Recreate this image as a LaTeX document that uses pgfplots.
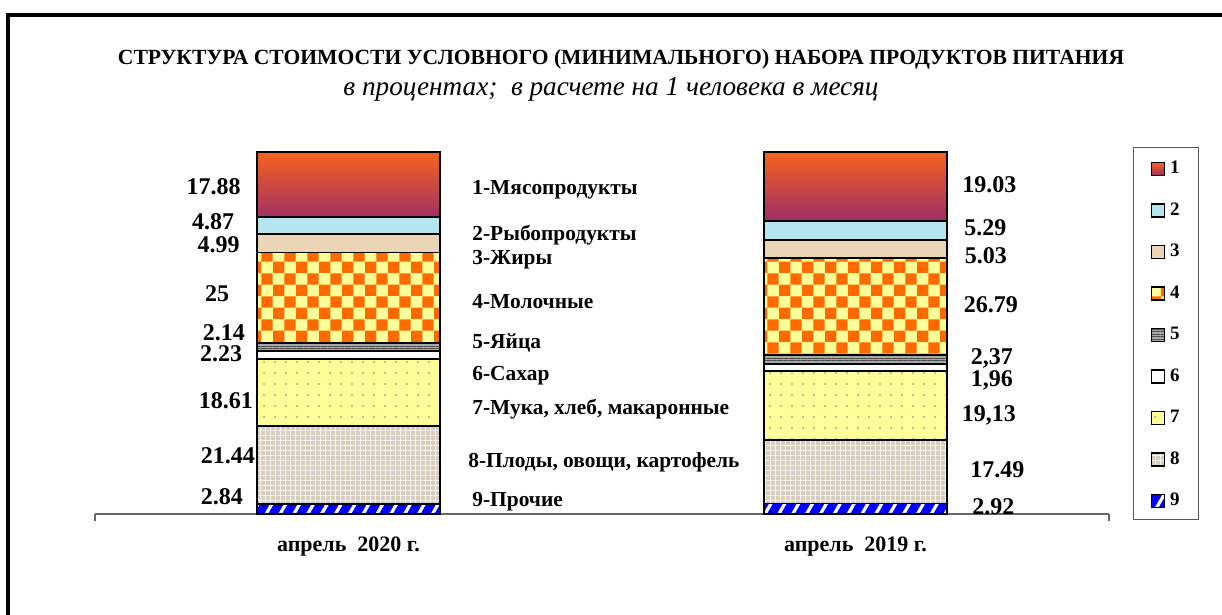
\documentclass[border=0pt]{standalone}
\usepackage{pgfplots}
\pgfplotsset{compat=1.18}
\usetikzlibrary{patterns,patterns.meta}
\usepackage{fontspec}
\setmainfont{Liberation Serif}

\definecolor{meatA}{HTML}{F8621E}
\definecolor{meatB}{HTML}{9C2E68}
\definecolor{fishC}{HTML}{B5E6EF}
\definecolor{fatC}{HTML}{EAD6B6}
\definecolor{milkY}{HTML}{FFFF99}
\definecolor{milkO}{HTML}{FF6A00}
\definecolor{eggC}{HTML}{A8A8A8}
\definecolor{flourY}{HTML}{FFFF99}
\definecolor{vegC}{HTML}{D8CEBE}
\definecolor{otherB}{HTML}{0000FF}

\tikzset{
  vl/.style={font=\bfseries\fontsize{12}{14}\selectfont},
  cl/.style={anchor=west, inner xsep=0pt, font=\bfseries\fontsize{10.7}{12}\selectfont},
}

\begin{document}
\begin{tikzpicture}
\useasboundingbox (0pt,0pt) rectangle (611pt,307.5pt);
\draw[line width=2pt] (4pt,0pt) -- (4pt,300pt) -- (611pt,300pt);
\node[font=\bfseries\fontsize{10.8}{12}\selectfont] at (310.5pt,278pt)
  {СТРУКТУРА СТОИМОСТИ УСЛОВНОГО (МИНИМАЛЬНОГО) НАБОРА ПРОДУКТОВ ПИТАНИЯ};
\node[font=\itshape\fontsize{13.6}{15}\selectfont] at (305.5pt,263pt)
  {в процентах;\ \ в расчете на 1 человека в месяц};

\begin{axis}[
  at={(47.5pt,50.5pt)}, anchor=south west,
  scale only axis, width=507pt, height=181pt,
  ybar stacked, bar width=91.5pt,
  xmin=-0.5, xmax=1.5, ymin=0, ymax=100,
  axis x line*=bottom, hide y axis,
  x axis line style={draw=gray!80!black, line width=0.7pt},
  xtick={-0.5,1.5}, xticklabels={}, tick align=outside,
  major tick length=3.5pt,
  tick style={draw=gray!80!black, line width=0.7pt},
  clip=false,
  every axis plot/.append style={draw=black, line width=0.9pt},
  legend image code/.code={\draw[#1,line width=0.7pt] (0pt,-4pt) rectangle (6.5pt,2.5pt);},
  legend style={at={(1.0237,1.0138)}, anchor=north west,
    draw=gray!70!black, line width=0.6pt,
    inner xsep=8.5pt, inner ysep=5pt, row sep=10.75pt, column sep=1.5pt,
    font=\bfseries\fontsize{9.5}{10}\selectfont,
    nodes={inner sep=1pt, text height=7pt, text depth=1pt}},
  reverse legend,
]
% 9-Прочие
\addplot[fill=otherB, postaction={pattern={Lines[angle=60,distance=6pt,line width=1.6pt]}, pattern color=white}]
  coordinates {(0,2.84) (1,2.92)};
\addlegendentry{9}
% 8-Плоды, овощи, картофель
\addplot[fill=vegC, postaction={pattern={Hatch[angle=0,distance=2.5pt,line width=0.3pt]}, pattern color=white!75!vegC}]
  coordinates {(0,21.44) (1,17.49)};
\addlegendentry{8}
% 7-Мука, хлеб, макаронные
\addplot[fill=flourY, postaction={pattern={Dots[distance=5.5pt,radius=0.45pt]}, pattern color=gray}]
  coordinates {(0,18.61) (1,19.13)};
\addlegendentry{7}
% 6-Сахар
\addplot[fill=white]
  coordinates {(0,2.23) (1,1.96)};
\addlegendentry{6}
% 5-Яйца
\addplot[fill=eggC, postaction={pattern={Lines[angle=0,distance=1.2pt,line width=0.3pt]}, pattern color=gray!60!black}]
  coordinates {(0,2.14) (1,2.37)};
\addlegendentry{5}
% 4-Молочные
\addplot[fill=milkY, postaction={pattern=checkerboard, pattern color=milkO}]
  coordinates {(0,25) (1,26.79)};
\addlegendentry{4}
% 3-Жиры
\addplot[fill=fatC]
  coordinates {(0,4.99) (1,5.03)};
\addlegendentry{3}
% 2-Рыбопродукты
\addplot[fill=fishC]
  coordinates {(0,4.87) (1,5.29)};
\addlegendentry{2}
% 1-Мясопродукты
\addplot[top color=meatA, bottom color=meatB]
  coordinates {(0,17.88) (1,19.03)};
\addlegendentry{1}

% values, left bar
\node[vl] at (axis cs:-0.266,90.3) {17.88};
\node[vl] at (axis cs:-0.267,80.7) {4.87};
\node[vl] at (axis cs:-0.256,74.5) {4.99};
\node[vl] at (axis cs:-0.259,61.0) {25};
\node[vl] at (axis cs:-0.246,50.0) {2.14};
\node[vl] at (axis cs:-0.251,44.2) {2.23};
\node[vl] at (axis cs:-0.242,31.2) {18.61};
\node[vl] at (axis cs:-0.238,16.0) {21.44};
\node[vl] at (axis cs:-0.250,4.7) {2.84};
% values, right bar
\node[vl] at (axis cs:1.264,90.9) {19.03};
\node[vl] at (axis cs:1.256,79.0) {5.29};
\node[vl] at (axis cs:1.257,71.3) {5.03};
\node[vl] at (axis cs:1.267,57.7) {26.79};
\node[vl] at (axis cs:1.269,43.1) {2,37};
\node[vl] at (axis cs:1.269,37.0) {1,96};
\node[vl] at (axis cs:1.263,27.3) {19,13};
\node[vl] at (axis cs:1.280,12.2) {17.49};
\node[vl] at (axis cs:1.272,1.9) {2.92};

% category names
\node[cl] at (axis cs:0.2436,89.5) {1-Мясопродукты};
\node[cl] at (axis cs:0.2436,77.1) {2-Рыбопродукты};
\node[cl] at (axis cs:0.2436,70.2) {3-Жиры};
\node[cl] at (axis cs:0.2436,58.8) {4-Молочные};
\node[cl] at (axis cs:0.2436,47.2) {5-Яйца};
\node[cl] at (axis cs:0.2436,38.1) {6-Сахар};
\node[cl] at (axis cs:0.2436,29.0) {7-Мука, хлеб, макаронные};
\node[cl] at (axis cs:0.2357,14.4) {8-Плоды, овощи, картофель};
\node[cl] at (axis cs:0.2436,3.3) {9-Прочие};

% x categories
\node[font=\bfseries\fontsize{11}{12}\selectfont] at (axis cs:0,-8.9) {апрель\ \ 2020 г.};
\node[font=\bfseries\fontsize{11}{12}\selectfont] at (axis cs:1,-8.9) {апрель\ \ 2019 г.};
\end{axis}
\end{tikzpicture}
\end{document}
